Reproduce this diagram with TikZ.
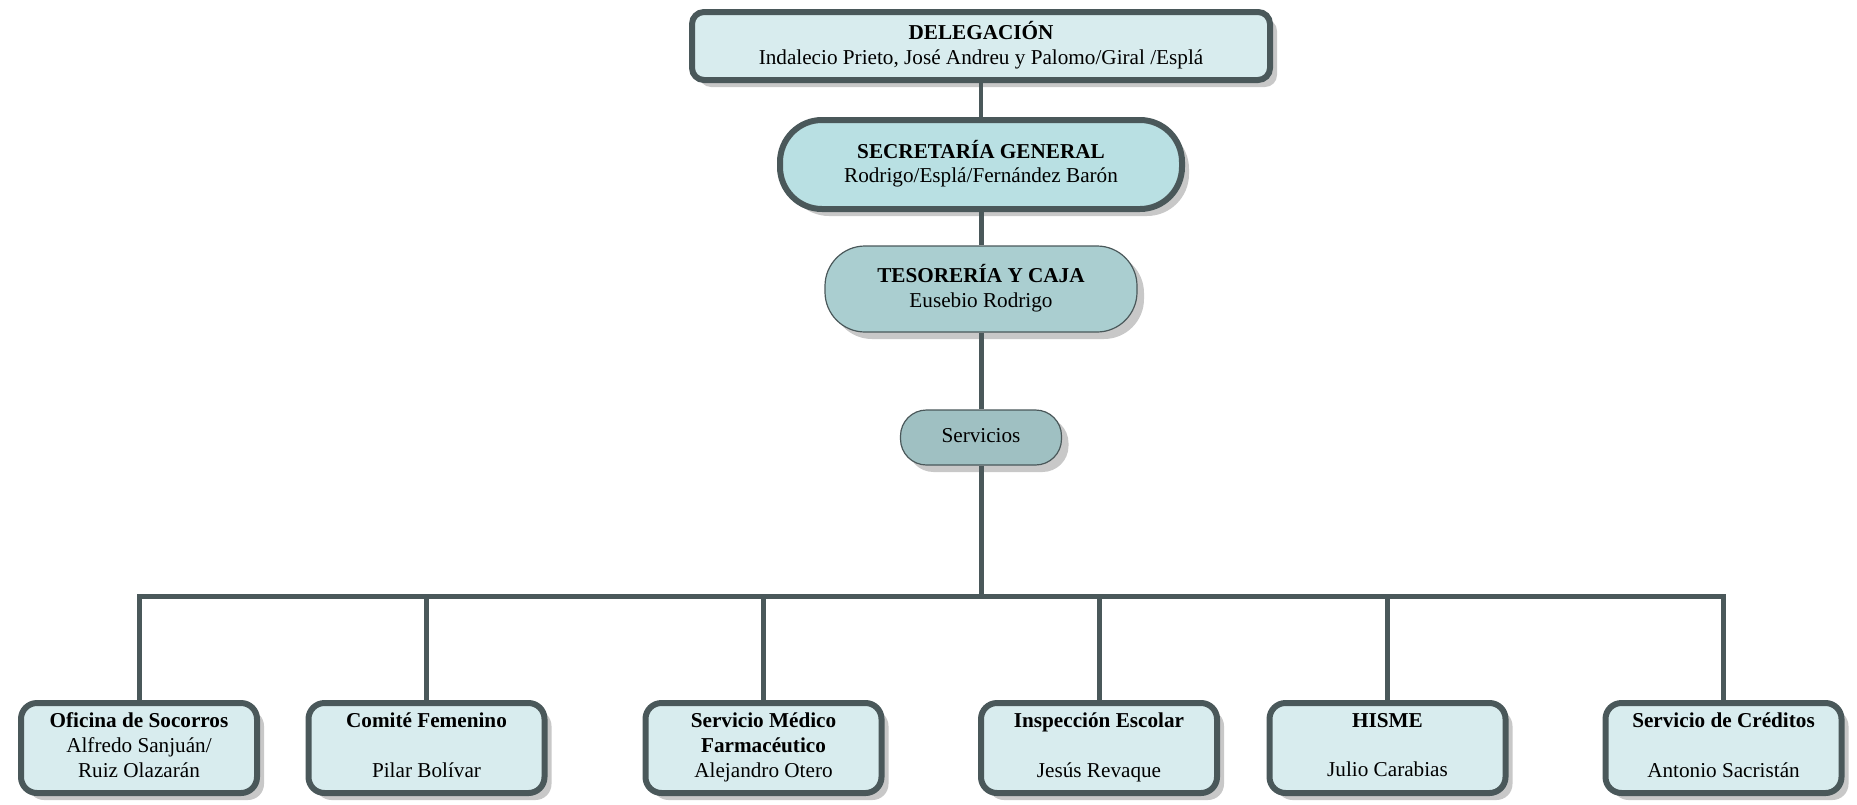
\documentclass[tikz,border=0pt]{standalone}
\usepackage{fontspec}
\setmainfont{Liberation Serif}
\usetikzlibrary{shadows}
\definecolor{edgec}{RGB}{74,88,90}
\definecolor{paleb}{RGB}{216,236,238}
\definecolor{secb}{RGB}{185,224,227}
\definecolor{tesb}{RGB}{170,206,208}
\definecolor{servb}{RGB}{159,192,194}
\definecolor{shadc}{RGB}{200,200,200}
% fixed depth for the last line of a label, so descenders do not shift it
\newcommand{\lastdepth}{\rule[-3pt]{0pt}{0pt}}
\tikzset{
  shad/.style={drop shadow={shadow xshift=3.5pt, shadow yshift=-3.5pt, fill=shadc, opacity=1}},
  thickbox/.style={draw=edgec, line width=3pt, fill=paleb, shad, align=center,
    font=\fontsize{10.6}{12.4}\selectfont, inner sep=0pt},
  thinbox/.style={draw=edgec, line width=0.6pt, shad, align=center,
    font=\fontsize{10.6}{12.4}\selectfont, inner sep=0pt},
  unit/.style={thickbox, minimum width=118pt, minimum height=45pt, rounded corners=8pt},
  link/.style={draw=edgec, line width=2.5pt},
}
\begin{document}
\begin{tikzpicture}[x=0.5pt, y=-0.5pt]
\useasboundingbox (0,0) rectangle (1857,804);

% upper chain
\node[thickbox, minimum width=289pt, minimum height=34pt, rounded corners=6pt] (del) at (981,46)
  {\textbf{DELEGACIÓN}\\Indalecio Prieto, José Andreu y Palomo/Giral /Esplá\lastdepth};
\node[thickbox, fill=secb, minimum width=201pt, minimum height=44.5pt, rounded corners=21pt] (sec) at (981,164.5)
  {\textbf{SECRETARÍA GENERAL}\\Rodrigo/Esplá/Fernández Barón\lastdepth};
\node[thinbox, fill=tesb, minimum width=156pt, minimum height=43pt, rounded corners=20pt] (tes) at (981,289)
  {\textbf{TESORERÍA Y CAJA}\\Eusebio Rodrigo\lastdepth};
\node[thinbox, fill=servb, minimum width=80.5pt, minimum height=27.5pt, rounded corners=13pt] (serv) at (981,437.5)
  {Servicios\rule[-2pt]{0pt}{0pt}};

% service units
\node[unit] (b1) at (139,748)    {\textbf{Oficina de Socorros}\\Alfredo Sanjuán/\\Ruiz Olazarán\lastdepth};
\node[unit] (b2) at (426.5,748)  {\textbf{Comité Femenino}\\\mbox{}\\Pilar Bolívar\lastdepth};
\node[unit] (b3) at (763.5,748)  {\textbf{Servicio Médico}\\\textbf{Farmacéutico}\\Alejandro Otero\lastdepth};
\node[unit] (b4) at (1099,748)   {\textbf{Inspección Escolar}\\\mbox{}\\Jesús Revaque\lastdepth};
\node[unit] (b5) at (1387.5,748) {\textbf{HISME}\\\mbox{}\\Julio Carabias\lastdepth};
\node[unit] (b6) at (1723.5,748) {\textbf{Servicio de Créditos}\\\mbox{}\\Antonio Sacristán\lastdepth};

\coordinate (bus) at (981,596);

% connectors
\path[link, line width=2pt] (del.south) -- (sec.north);
\path[link] (sec.south) -- (tes.north);
\path[link] (tes.south) -- (serv.north);
\path[link] (serv.south) -- (bus);
\path[link] (b1.north) |- (bus) -| (b6.north);
\foreach \b in {b2,b3,b4,b5}
  \path[link] (\b.north) -- (\b.north |- bus);
\end{tikzpicture}
\end{document}
